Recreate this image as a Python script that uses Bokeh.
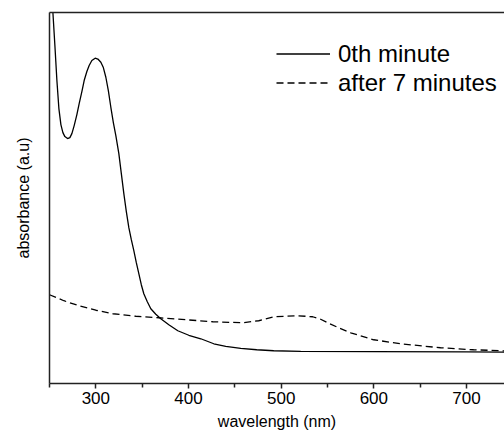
from bokeh.plotting import figure
from bokeh.models import Range1d, FixedTicker, LinearAxis, Legend, LegendItem
from bokeh.embed import file_html
from bokeh.resources import INLINE

# Solid curve: 0th minute
wl_0 = [250, 253.67, 255.82, 257.98, 260.13, 262.29, 264.45, 266.6, 269.51, 271.99,
        274.15, 276.63, 279.54, 282.02, 284.93, 287.41, 290.32, 292.80, 295.71, 299.27,
        302.18, 305.42, 308.11, 310.81, 313.50, 316.20, 318.90, 321.59, 324.83, 327.52,
        330.22, 332.91, 335.61, 338.30, 341.00, 343.69, 346.39, 349.08, 351.78, 355.55,
        359.33, 364.72, 370.11, 378.76, 388.46, 400.32, 413.26, 427.28, 440.22, 456.39,
        473.64, 491.97, 521.08, 600, 700, 745]
abs_0 = [4.24, 3.707, 3.377, 3.027, 2.747, 2.587, 2.507, 2.467, 2.447, 2.457,
         2.497, 2.577, 2.687, 2.797, 2.917, 3.027, 3.117, 3.177, 3.227, 3.25,
         3.242, 3.21, 3.157, 3.06, 2.927, 2.76, 2.607, 2.477, 2.297, 2.097,
         1.897, 1.717, 1.557, 1.437, 1.327, 1.207, 1.097, 0.987, 0.897, 0.817,
         0.747, 0.692, 0.647, 0.587, 0.527, 0.482, 0.447, 0.397, 0.372, 0.35,
         0.337, 0.327, 0.32, 0.318, 0.315, 0.313]

# Dashed curve: after 7 minutes
wl_7 = [250, 265.5, 281.7, 300, 318.4, 343.2, 368, 397.1, 426.2, 458.5, 475.8, 492,
        517.9, 534, 542.6, 550.2, 562, 575, 599.8, 628.9, 672, 707.6, 745]
abs_7 = [0.887, 0.827, 0.777, 0.732, 0.697, 0.672, 0.657, 0.637, 0.617, 0.607, 0.627, 0.667,
         0.677, 0.667, 0.642, 0.607, 0.557, 0.507, 0.437, 0.397, 0.357, 0.337, 0.325]

major_ticks = [300, 400, 500, 600, 700]
minor_ticks = [250, 350, 450, 550, 650, 750]
series_labels = ["0th minute", "after 7 minutes"]

FONT = "Liberation Sans"
AX = "#222222"

p = figure(width=504, height=434, output_backend="svg", toolbar_location=None,
           x_range=Range1d(250, 741), y_range=Range1d(0, 3.707),
           min_border_left=49, min_border_right=0, min_border_top=12, min_border_bottom=51)
p.outline_line_color = None
p.xgrid.visible = False
p.ygrid.visible = False
p.background_fill_color = "white"
p.border_fill_color = "white"

r0 = p.line(wl_0, abs_0, line_color="black", line_width=1.3)
r7 = p.line(wl_7, abs_7, line_color="black", line_width=1.3, line_dash="7 4")

xa = p.xaxis[0]
xa.ticker = FixedTicker(ticks=major_ticks, minor_ticks=minor_ticks)
xa.axis_line_color = AX
xa.axis_line_width = 1.5
xa.major_tick_line_color = AX
xa.major_tick_line_width = 1.5
xa.minor_tick_line_color = AX
xa.minor_tick_line_width = 1.5
xa.major_tick_in = 0
xa.major_tick_out = 5
xa.minor_tick_in = 0
xa.minor_tick_out = 4
xa.major_label_text_font = FONT
xa.major_label_text_font_size = "17px"
xa.major_label_text_color = "black"
xa.major_label_standoff = 3
xa.axis_label = "wavelength (nm)"
xa.axis_label_text_font = FONT
xa.axis_label_text_font_size = "16px"
xa.axis_label_text_font_style = "normal"
xa.axis_label_text_color = "black"
xa.axis_label_standoff = 6

ya = p.yaxis[0]
ya.ticker = FixedTicker(ticks=[])
ya.axis_line_color = AX
ya.axis_line_width = 1.5
ya.major_tick_line_color = None
ya.minor_tick_line_color = None
ya.axis_label = "absorbance (a.u)"
ya.axis_label_text_font = FONT
ya.axis_label_text_font_size = "16px"
ya.axis_label_text_font_style = "normal"
ya.axis_label_text_color = "black"
ya.axis_label_standoff = 18

top = LinearAxis(ticker=FixedTicker(ticks=[]), axis_line_color=AX, axis_line_width=1.5,
                 major_tick_line_color=None, minor_tick_line_color=None,
                 major_label_text_font_size="0px")
p.add_layout(top, "above")

legend = Legend(items=[LegendItem(label=series_labels[0], renderers=[r0]),
                       LegendItem(label=series_labels[1], renderers=[r7])],
                location=(227, 286), padding=0, margin=0, spacing=0,
                glyph_width=54, glyph_height=29, label_height=29, label_standoff=8,
                label_text_font=FONT, label_text_font_size="24px",
                label_text_color="black",
                border_line_color=None, background_fill_alpha=0)
p.add_layout(legend, "center")

open("out.html", "w").write(file_html(p, INLINE))
